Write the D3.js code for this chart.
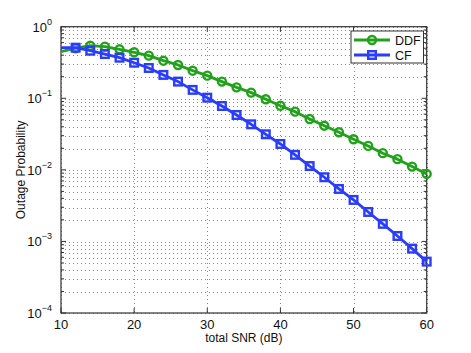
<!DOCTYPE html>
<html>
<head>
<meta charset="utf-8">
<script src="https://cdn.jsdelivr.net/npm/d3@7"></script>
<style>
  body { margin: 0; background: #fff; }
  svg { font-family: "Liberation Sans", Arial, sans-serif; }
</style>
</head>
<body>
<div id="chart"></div>
<script>
const snr = [10, 12, 14, 16, 18, 20, 22, 24, 26, 28, 30, 32, 34, 36, 38, 40,
  42, 44, 46, 48, 50, 52, 54, 56, 58, 60];
const ddf = [0.448, 0.50, 0.543, 0.526, 0.483, 0.439, 0.394, 0.335, 0.292, 0.243,
  0.207, 0.171, 0.142, 0.120, 0.0969, 0.0788, 0.0650, 0.0514, 0.0414, 0.0335,
  0.0268, 0.0216, 0.0171, 0.0141, 0.0111, 0.00877];
const cf = [0.509, 0.509, 0.462, 0.415, 0.369, 0.314, 0.265, 0.212, 0.171, 0.131,
  0.102, 0.0780, 0.0584, 0.0433, 0.0314, 0.0230, 0.0162, 0.0113, 0.00788, 0.00541,
  0.00380, 0.00258, 0.00176, 0.00119, 0.000793, 0.000522];
const xTicks = [10, 20, 30, 40, 50, 60];
const yDecades = [0, -1, -2, -3, -4];

const W = 471, H = 353;
const margin = { top: 26.7, right: 44.3, bottom: 40, left: 61 };
const width = W - margin.left - margin.right;
const height = H - margin.top - margin.bottom;

const svg = d3.select("#chart").append("svg")
  .attr("width", W).attr("height", H);
const g = svg.append("g")
  .attr("transform", `translate(${margin.left},${margin.top})`);

const x = d3.scaleLinear().domain([10, 60]).range([0, width]);
const y = d3.scaleLog().domain([1e-4, 1]).range([height, 0]);

// minor values for log grid
const minor = [];
yDecades.slice(1).forEach(e => {
  for (let k = 2; k <= 9; k++) minor.push(k * Math.pow(10, e));
});
const major = yDecades.map(e => Math.pow(10, e));

const gridStyle = sel => sel.attr("stroke", "#8a8a8a").attr("stroke-width", 1)
  .attr("stroke-dasharray", "1,3").attr("shape-rendering", "crispEdges");

// horizontal grid
g.selectAll(".hgrid").data(major.concat(minor)).enter().append("line")
  .attr("x1", 0).attr("x2", width)
  .attr("y1", d => Math.round(y(d)) + 0.5).attr("y2", d => Math.round(y(d)) + 0.5)
  .call(gridStyle);
// vertical grid
g.selectAll(".vgrid").data(xTicks).enter().append("line")
  .attr("y1", 0).attr("y2", height)
  .attr("x1", d => Math.round(x(d)) + 0.5).attr("x2", d => Math.round(x(d)) + 0.5)
  .call(gridStyle);

// ticks (inward, both sides)
const tk = g.append("g").attr("stroke", "#333").attr("stroke-width", 1);
major.forEach(v => {
  tk.append("line").attr("x1", 0).attr("x2", 5).attr("y1", y(v)).attr("y2", y(v));
  tk.append("line").attr("x1", width).attr("x2", width - 5).attr("y1", y(v)).attr("y2", y(v));
});
minor.forEach(v => {
  tk.append("line").attr("x1", 0).attr("x2", 3).attr("y1", y(v)).attr("y2", y(v));
  tk.append("line").attr("x1", width).attr("x2", width - 3).attr("y1", y(v)).attr("y2", y(v));
});
xTicks.forEach(v => {
  tk.append("line").attr("x1", x(v)).attr("x2", x(v)).attr("y1", height).attr("y2", height - 5);
  tk.append("line").attr("x1", x(v)).attr("x2", x(v)).attr("y1", 0).attr("y2", 5);
});

// box
g.append("rect").attr("x", 0).attr("y", 0).attr("width", width).attr("height", height)
  .attr("fill", "none").attr("stroke", "#333").attr("stroke-width", 1.2);

// tick labels
g.selectAll(".xl").data(xTicks).enter().append("text")
  .attr("x", d => x(d)).attr("y", height + 16)
  .attr("text-anchor", "middle").attr("font-size", 13).attr("fill", "#111")
  .text(d => d);

const yl = g.selectAll(".yl").data(yDecades).enter().append("text")
  .attr("x", -9).attr("y", d => y(Math.pow(10, d)) + 5)
  .attr("text-anchor", "end").attr("font-size", 13).attr("fill", "#111");
yl.append("tspan").text("10");
yl.append("tspan").attr("dy", -7).attr("font-size", 9).text(d => d === 0 ? "0" : "\u2212" + (-d));

// axis titles
svg.append("text")
  .attr("x", margin.left + width / 2).attr("y", H - 11)
  .attr("text-anchor", "middle").attr("font-size", 12).attr("fill", "#111")
  .text("total SNR (dB)");
svg.append("text")
  .attr("transform", `translate(25,${margin.top + height / 2}) rotate(-90)`)
  .attr("text-anchor", "middle").attr("font-size", 12).attr("fill", "#111")
  .text("Outage Probability");

// series
const green = "#22a11b", blue = "#2a3dfd";
const series = [
  { name: "DDF", values: ddf, color: green, marker: "circle" },
  { name: "CF", values: cf, color: blue, marker: "square" }
];

const line = d3.line().x(d => x(d[0])).y(d => y(d[1]));
const sq = 7.6;

series.forEach(s => {
  const pts = snr.map((v, i) => [v, s.values[i]]);
  g.append("path").datum(pts)
    .attr("fill", "none").attr("stroke", s.color).attr("stroke-width", 2.8)
    .attr("stroke-linejoin", "round").attr("d", line);
  const mk = pts.slice(1);
  if (s.marker === "circle") {
    g.selectAll(".m-" + s.name).data(mk).enter().append("circle")
      .attr("cx", d => x(d[0])).attr("cy", d => y(d[1])).attr("r", 4)
      .attr("fill", "none").attr("stroke", s.color).attr("stroke-width", 2.4);
  } else {
    g.selectAll(".m-" + s.name).data(mk).enter().append("rect")
      .attr("x", d => x(d[0]) - sq / 2).attr("y", d => y(d[1]) - sq / 2)
      .attr("width", sq).attr("height", sq)
      .attr("fill", "none").attr("stroke", s.color).attr("stroke-width", 2.4);
  }
});

// legend
const lg = svg.append("g").attr("transform", "translate(351,31)");
lg.append("rect").attr("width", 72.5).attr("height", 32)
  .attr("fill", "#fff").attr("stroke", "#333").attr("stroke-width", 1);
series.forEach((s, i) => {
  const yy = 9 + i * 15;
  lg.append("line").attr("x1", 3).attr("x2", 39).attr("y1", yy).attr("y2", yy)
    .attr("stroke", s.color).attr("stroke-width", 2.8);
  if (s.marker === "circle") {
    lg.append("circle").attr("cx", 21).attr("cy", yy).attr("r", 4)
      .attr("fill", "none").attr("stroke", s.color).attr("stroke-width", 2.4);
  } else {
    lg.append("rect").attr("x", 21 - sq / 2).attr("y", yy - sq / 2).attr("width", sq).attr("height", sq)
      .attr("fill", "none").attr("stroke", s.color).attr("stroke-width", 2.4);
  }
  lg.append("text").attr("x", 44).attr("y", yy + 4.5).attr("font-size", 12.5).attr("fill", "#111")
    .text(s.name);
});
</script>
</body>
</html>
